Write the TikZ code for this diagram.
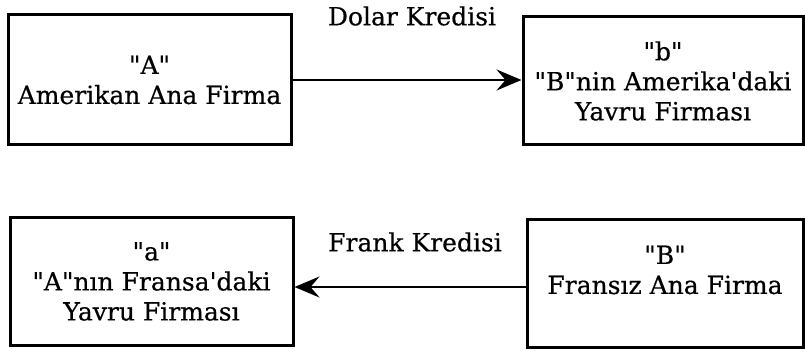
\documentclass[tikz,border=0pt]{standalone}
\usepackage{fontspec}
\newfontfamily\firmfont{DejaVu Serif}[FakeBold=0.5]
\usetikzlibrary{arrows.meta}

\tikzset{
    firma/.style={draw=black, line width=3pt, rectangle, align=center,
        inner sep=0pt, font=\firmfont\fontsize{25}{30}\selectfont},
    kredi/.style={font=\firmfont\fontsize{25}{30}\selectfont},
    akis/.style={black, line width=2.6pt,
        -{Stealth[length=25pt, width=21pt, inset=9pt]}}
}

\begin{document}
\begin{tikzpicture}[x=1pt, y=-1pt]
            \useasboundingbox (0,0) rectangle (805,355);
            % ust sira: dolar kredisi
            \node[firma, minimum width=283pt, minimum height=130pt]
                (A) at (149.5,80) {"A"\\Amerikan Ana Firma};
            \node[firma, minimum width=280pt, minimum height=128pt]
                (b) at (663,81) {"b"\\"B"nin Amerika'daki\\Yavru Firması};
            \node[kredi] (dolar) at (412,16) {Dolar Kredisi};
            \draw[akis] (A.east) -- (A.east -| b.west);
            % alt sira: frank kredisi
            \node[firma, minimum width=283pt, minimum height=127pt]
                (a) at (151.5,281.5) {"a"\\"A"nın Fransa'daki\\Yavru Firması};
            \node[firma, minimum width=276pt, minimum height=127pt]
                (B) at (665,283.5) {};
            \node[kredi, align=center] (Bmetin) at (665,270)
                {"B"\\Fransız Ana Firma};
            \node[kredi] (frank) at (415,242) {Frank Kredisi};
            \coordinate (Bsol) at (B.west |- 0,287);
            \draw[akis] (Bsol) -- (Bsol -| a.east);
\end{tikzpicture}
\end{document}
